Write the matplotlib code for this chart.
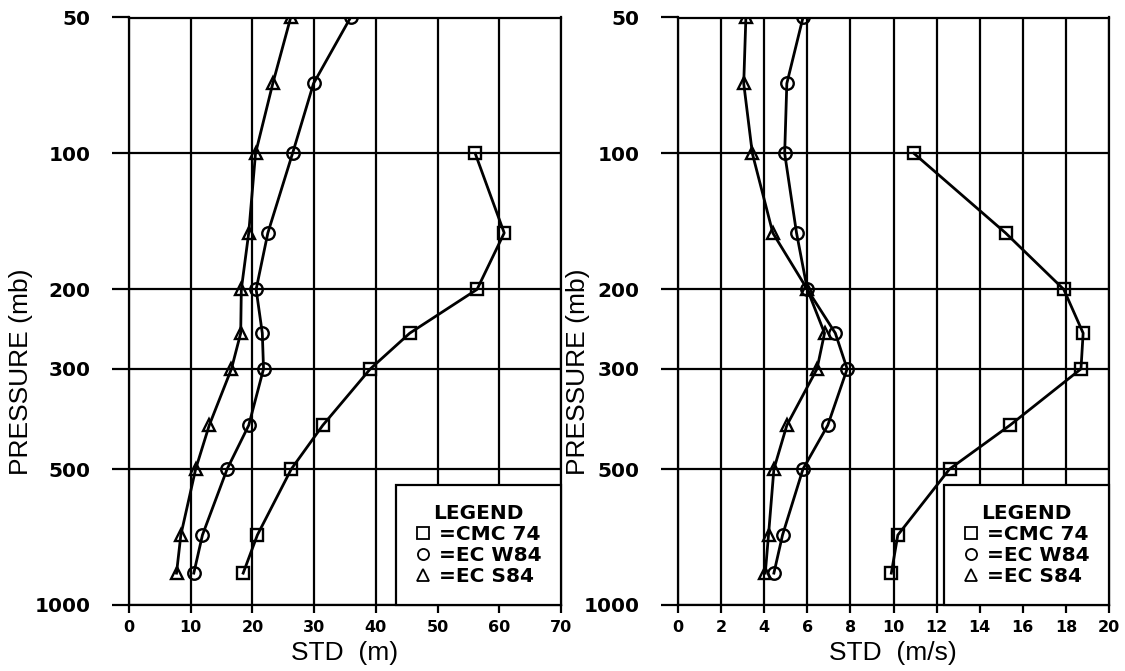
import matplotlib.pyplot as plt
from matplotlib.lines import Line2D

# pressure levels (mb)
levels = [50, 70, 100, 150, 200, 250, 300, 400, 500, 700, 850]
cmc_levels = [100, 150, 200, 250, 300, 400, 500, 700, 850]

# height error std (m)
cmc74_z = [56.1, 60.8, 56.4, 45.5, 39.1, 31.4, 26.3, 20.8, 18.5]
ecw84_z = [35.9, 29.9, 26.5, 22.5, 20.6, 21.6, 21.8, 19.4, 15.9, 11.9, 10.5]
ecs84_z = [26.2, 23.3, 20.5, 19.4, 18.2, 18.1, 16.6, 13.0, 10.8, 8.4, 7.7]

# wind error std (m/s)
cmc74_v = [10.95, 15.2, 17.9, 18.8, 18.7, 15.4, 12.6, 10.2, 9.9]
ecw84_v = [5.8, 5.05, 4.95, 5.5, 6.0, 7.3, 7.85, 6.95, 5.8, 4.85, 4.45]
ecs84_v = [3.15, 3.05, 3.45, 4.4, 6.0, 6.8, 6.45, 5.05, 4.45, 4.2, 4.05]

ptick = [50, 100, 200, 300, 500, 1000]
names = ["=CMC 74", "=EC W84", "=EC S84"]

W, H = 1125, 671
fig = plt.figure(figsize=(W / 100, H / 100), dpi=100)
ax1 = fig.add_axes([129 / W, 1 - 605 / H, 432 / W, 587.5 / H])
ax2 = fig.add_axes([678 / W, 1 - 605 / H, 431 / W, 587.5 / H])

def panel(ax, xmax, xstep, cmc, w84, s84):
    ax.set_yscale("log")
    ax.set_ylim(1000, 50)
    ax.set_xlim(0, xmax)
    ax.set_yticks(ptick)
    ax.set_yticklabels([str(p) for p in ptick])
    ax.yaxis.set_minor_locator(plt.NullLocator())
    ax.set_xticks(range(0, xmax + 1, xstep))
    ax.grid(True, color="black", lw=1.6)
    ax.tick_params(axis="y", direction="out", length=12.5, width=1.6,
                   pad=15, labelsize=14.5)
    ax.tick_params(axis="x", direction="out", length=6, width=1.6,
                   pad=5, labelsize=11.5)
    for lab in ax.get_xticklabels() + ax.get_yticklabels():
        lab.set_fontweight("bold")
    for s in ax.spines.values():
        s.set_linewidth(1.6)
    ax.plot(cmc, cmc_levels, color="black", lw=2, marker="s", ms=9,
            mfc="none", mec="black", mew=1.7)
    ax.plot(w84, levels, color="black", lw=2, marker="o", ms=9,
            mfc="none", mec="black", mew=1.7)
    ax.plot(s84, levels, color="black", lw=2, marker="^", ms=9,
            mfc="none", mec="black", mew=1.7)
    handles = [Line2D([], [], ls="none", marker=m, ms=8, mfc="none",
                      mec="black", mew=1.3) for m in ["s", "o", "^"]]
    leg = ax.legend(handles, names, title="LEGEND", loc="lower right",
                    bbox_to_anchor=(1, 0), borderaxespad=0, fancybox=False,
                    edgecolor="black", framealpha=1, handlelength=0.8,
                    handletextpad=0.4, labelspacing=0.1, borderpad=0.95,
                    prop={"weight": "bold", "size": 14.5},
                    title_fontproperties={"weight": "bold", "size": 14.5})
    leg.get_frame().set_linewidth(1.6)

panel(ax1, 70, 10, cmc74_z, ecw84_z, ecs84_z)
panel(ax2, 20, 2, cmc74_v, ecw84_v, ecs84_v)

lab = dict(family="Liberation Sans", size=19)
fig.text(21 / W, 1 - 372 / H, "PRESSURE (mb)", rotation=90,
         ha="center", va="center", **lab)
fig.text(578 / W, 1 - 372 / H, "PRESSURE (mb)", rotation=90,
         ha="center", va="center", **lab)
fig.text(345 / W, 1 - 653 / H, "STD  (m)", ha="center", va="center", **lab)
fig.text(893 / W, 1 - 653 / H, "STD  (m/s)", ha="center", va="center", **lab)

fig.savefig("out.png", dpi=100)
